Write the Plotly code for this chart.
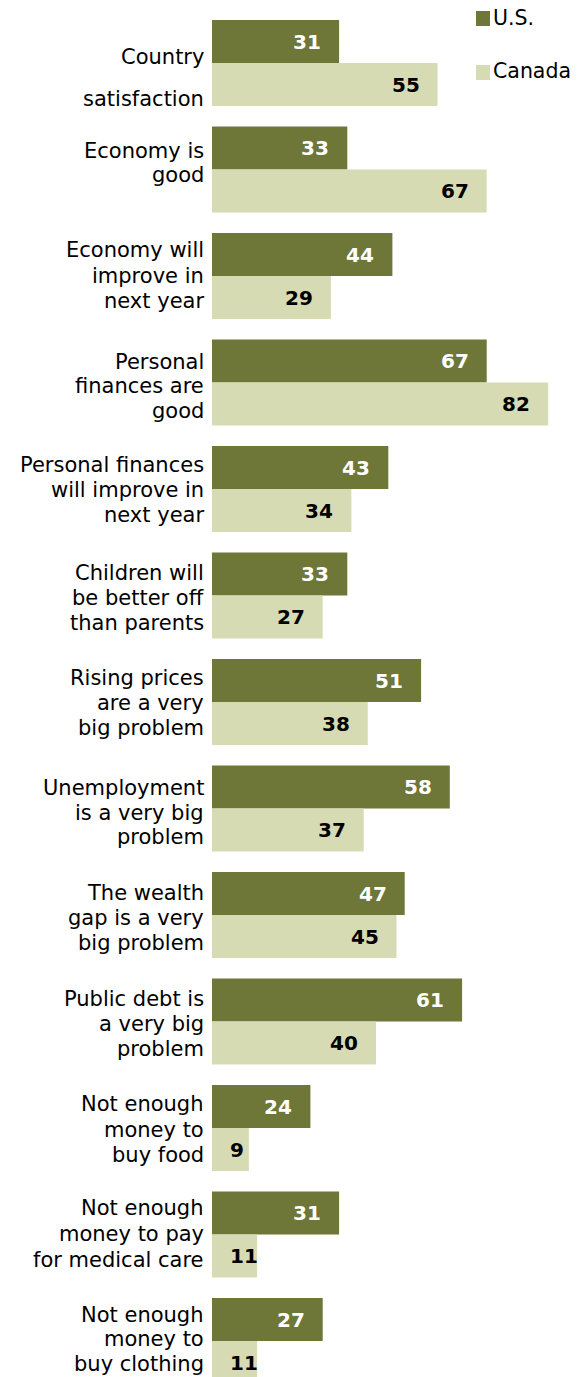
import plotly.graph_objects as go

categories = [
    "Country<br>satisfaction",
    "Economy is<br>good",
    "Economy will<br>improve in<br>next year",
    "Personal<br>finances are<br>good",
    "Personal finances<br>will improve in<br>next year",
    "Children will<br>be better off<br>than parents",
    "Rising prices<br>are a very<br>big problem",
    "Unemployment<br>is a very big<br>problem",
    "The wealth<br>gap is a very<br>big problem",
    "Public debt is<br>a very big<br>problem",
    "Not enough<br>money to<br>buy food",
    "Not enough<br>money to pay<br>for medical care",
    "Not enough<br>money to<br>buy clothing",
]
us_values = [31, 33, 44, 67, 43, 33, 51, 58, 47, 61, 24, 31, 27]
canada_values = [55, 67, 29, 82, 34, 27, 38, 37, 45, 40, 9, 11, 11]
series_names = ["U.S.", "Canada"]

US_COLOR = "#6e7638"
CA_COLOR = "#d6dbb4"
FONT = "DejaVu Sans"

W, H = 580, 1377
LEFT = 212
PX_PER_UNIT = 4.1
PITCH = 106.5
FIRST_CENTER = 63.0
BARGAP = 1 - 86 / PITCH
# vertical offset (px) of the first label line from the group centre, and line spacing
FIRST_LINE_OFF = [-6, -19, -26, -21, -24, -23, -24, -20.5, -22, -23, -24, -26.5, -26.5]
LINE_SP = [42, 24.6, 25.5, 24.6, 25.2, 25.2, 25.2, 24.6, 25.2, 25.2, 25.5, 26, 24.8]

idx = list(range(len(categories)))

fig = go.Figure()
fig.add_trace(go.Bar(y=idx, x=us_values, orientation="h", name=series_names[0],
                     marker=dict(color=US_COLOR, line=dict(width=0)), hoverinfo="x"))
fig.add_trace(go.Bar(y=idx, x=canada_values, orientation="h", name=series_names[1],
                     marker=dict(color=CA_COLOR, line=dict(width=0)), hoverinfo="x"))

half = (1 - BARGAP) / 4
annotations = []


def value_label(v, yv, color):
    txt = f"<b>{v}</b>"
    width_px = v * PX_PER_UNIT
    text_w = 14 * len(str(v))
    if width_px >= text_w + 34:
        return dict(x=v, y=yv, xref="x", yref="y", text=txt, showarrow=False,
                    xanchor="right", yanchor="middle", xshift=-16,
                    font=dict(family=FONT, size=20, color=color))
    return dict(x=0, y=yv, xref="x", yref="y", text=txt, showarrow=False,
                xanchor="left", yanchor="middle", xshift=16,
                font=dict(family=FONT, size=20, color=color))


for i, (u, c) in enumerate(zip(us_values, canada_values)):
    annotations.append(value_label(u, i - half, "white"))
    annotations.append(value_label(c, i + half, "black"))

# category labels, one annotation per line
for i, lab in enumerate(categories):
    lines = lab.split("<br>")
    offsets = [FIRST_LINE_OFF[i] + k * LINE_SP[i] for k in range(len(lines))]
    for line, off in zip(lines, offsets):
        annotations.append(dict(x=0, y=i, xref="paper", yref="y", text=line,
                                showarrow=False, xanchor="right", yanchor="middle",
                                xshift=-6, yshift=-off,
                                font=dict(family=FONT, size=21, color="black")))

# legend (squares + text)
shapes = []
legend_items = [(series_names[0], US_COLOR, 11, 18), (series_names[1], CA_COLOR, 65, 71)]
for name, col, sq_top, text_mid in legend_items:
    shapes.append(dict(type="rect", xref="paper", yref="paper",
                       x0=(476 - LEFT) / (W - LEFT), x1=(490 - LEFT) / (W - LEFT),
                       y0=1 - (sq_top + 15) / H, y1=1 - sq_top / H,
                       fillcolor=col, line=dict(width=0)))
    annotations.append(dict(x=(491 - LEFT) / (W - LEFT), y=1 - text_mid / H,
                            xref="paper", yref="paper", text=name,
                            showarrow=False, xanchor="left", yanchor="middle",
                            font=dict(family=FONT, size=20.5, color="black")))

y_top = -FIRST_CENTER / PITCH
y_bot = (H - FIRST_CENTER) / PITCH
fig.update_layout(
    width=W, height=H,
    margin=dict(l=LEFT, r=0, t=0, b=0),
    barmode="group", bargap=BARGAP, bargroupgap=0,
    paper_bgcolor="white", plot_bgcolor="white",
    showlegend=False,
    xaxis=dict(range=[0, (W - LEFT) / PX_PER_UNIT], visible=False, fixedrange=True),
    yaxis=dict(range=[y_bot, y_top], visible=False, fixedrange=True),
    annotations=annotations,
    shapes=shapes,
)
fig.write_html("out.html")
